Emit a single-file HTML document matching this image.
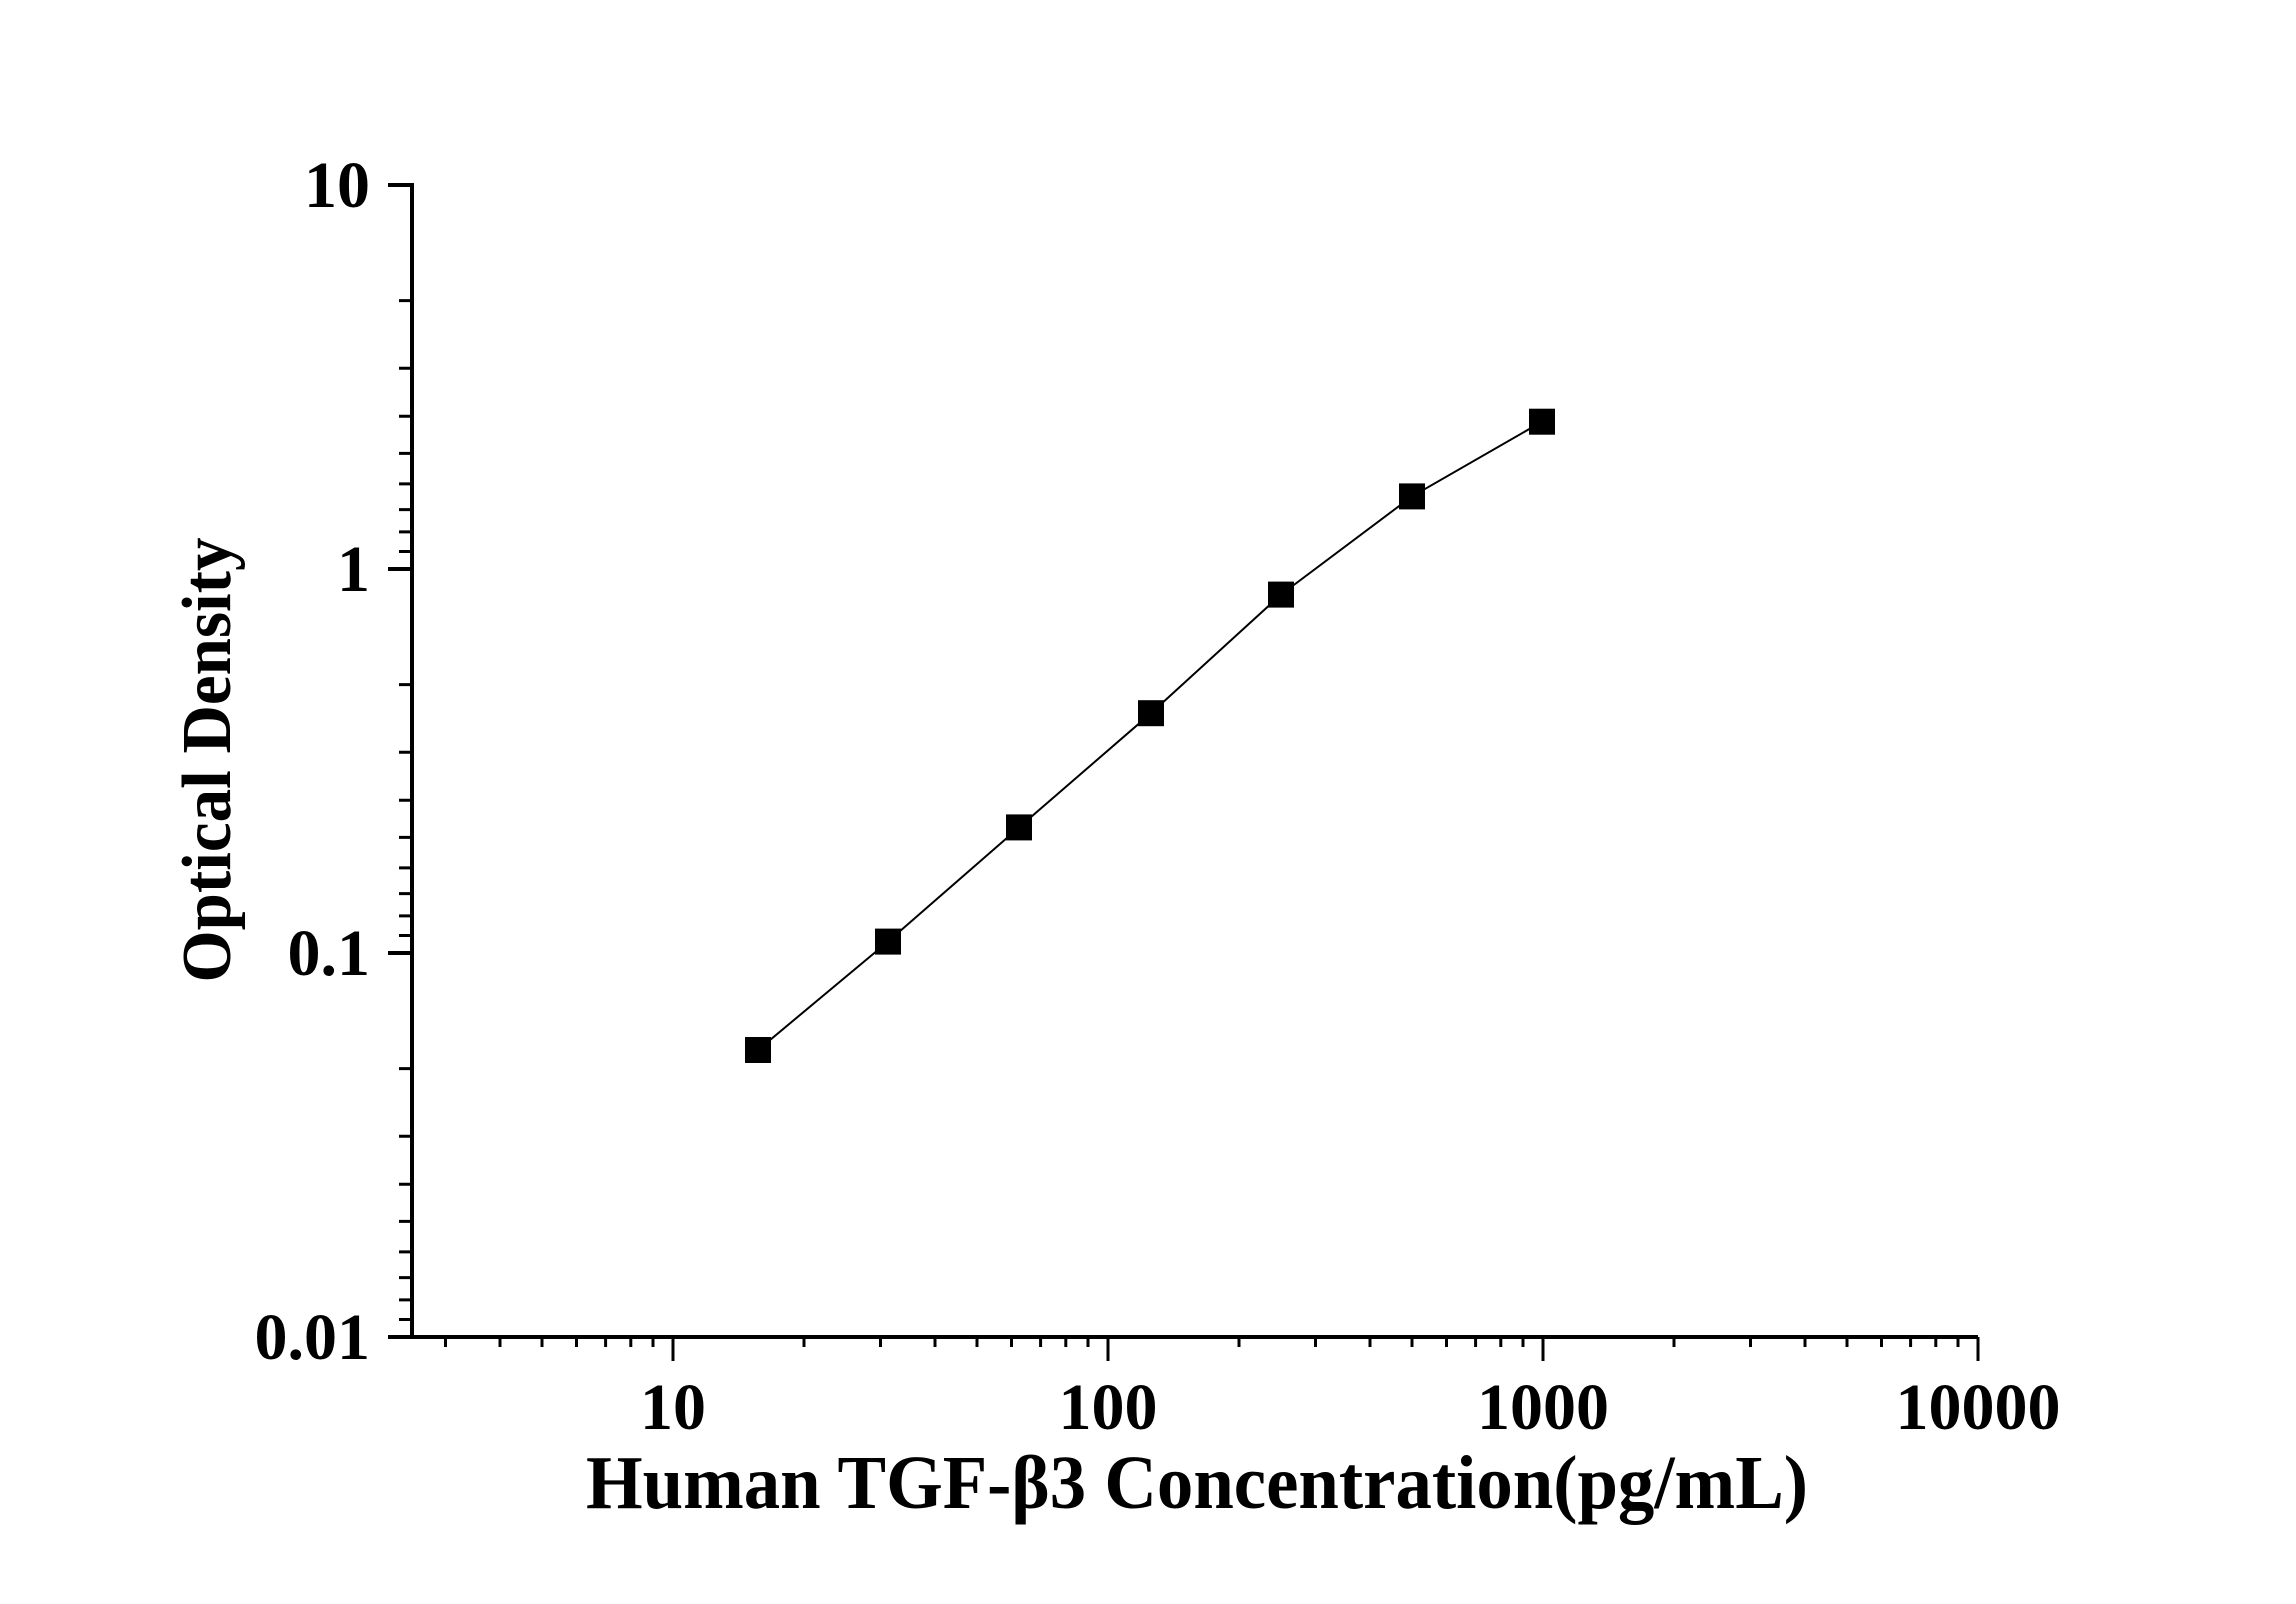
<!DOCTYPE html>
<html><head><meta charset="utf-8"><style>html,body{margin:0;padding:0;background:#fff}svg{display:block}</style></head>
<body>
<svg width="2296" height="1604" viewBox="0 0 2296 1604" xmlns="http://www.w3.org/2000/svg" font-family="Liberation Serif, serif" font-weight="bold">
<rect width="2296" height="1604" fill="#fff"/>
<g stroke="#000" stroke-width="4" fill="none">
<line x1="412" y1="183" x2="412" y2="1339"/>
<line x1="410" y1="1337" x2="1978" y2="1337"/>
<path d="M388 185H412M388 569H412M388 953H412M388 1337H412"/>
</g>
<g stroke="#000" stroke-width="3">
<path d="M399 300.6H412M399 368.2H412M399 416.2H412M399 453.4H412M399 483.9H412M399 509.6H412M399 531.9H412M399 551.5H412
M399 684.6H412M399 752.2H412M399 800.2H412M399 837.4H412M399 867.9H412M399 893.6H412M399 915.9H412M399 935.5H412
M399 1068.6H412M399 1136.2H412M399 1184.2H412M399 1221.4H412M399 1251.9H412M399 1277.6H412M399 1299.9H412M399 1319.5H412"/>
<path d="M673 1337V1361M1108 1337V1361M1543 1337V1361M1978 1337V1361"/>
<path d="M445.5 1337V1347M500 1337V1347M542 1337V1347M576.5 1337V1347M605.6 1337V1347M630.8 1337V1347M653 1337V1347
M804 1337V1347M880.5 1337V1347M935 1337V1347M977 1337V1347M1011.5 1337V1347M1040.6 1337V1347M1065.8 1337V1347M1088 1337V1347
M1239 1337V1347M1315.5 1337V1347M1370 1337V1347M1412 1337V1347M1446.5 1337V1347M1475.6 1337V1347M1500.8 1337V1347M1523 1337V1347
M1674 1337V1347M1750.5 1337V1347M1805 1337V1347M1847 1337V1347M1881.5 1337V1347M1910.6 1337V1347M1935.8 1337V1347M1958 1337V1347"/>
</g>
<g font-size="66" text-anchor="end" fill="#000">
<text x="370" y="207">10</text>
<text x="370" y="591">1</text>
<text x="370" y="975">0.1</text>
<text x="370" y="1359">0.01</text>
</g>
<g font-size="66" text-anchor="middle" fill="#000">
<text x="673" y="1429">10</text>
<text x="1108" y="1429">100</text>
<text x="1543" y="1429">1000</text>
<text x="1978" y="1429">10000</text>
</g>
<text x="586" y="1508" font-size="76" textLength="1222" lengthAdjust="spacingAndGlyphs" fill="#000">Human TGF-β3 Concentration(pg/mL)</text>
<text transform="translate(230,760) rotate(-90)" text-anchor="middle" font-size="70" textLength="445" lengthAdjust="spacingAndGlyphs" fill="#000">Optical Density</text>
<polyline fill="none" stroke="#000" stroke-width="2" points="758,1050 888,941.6 1019,827.4 1151,713.2 1281,594.6 1412,496.4 1542,421.7"/>
<g fill="#000">
<rect x="745" y="1037" width="26" height="26"/>
<rect x="875" y="928.6" width="26" height="26"/>
<rect x="1006" y="814.4" width="26" height="26"/>
<rect x="1138" y="700.2" width="26" height="26"/>
<rect x="1268" y="581.6" width="26" height="26"/>
<rect x="1399" y="483.4" width="26" height="26"/>
<rect x="1529" y="408.7" width="26" height="26"/>
</g>
</svg>
</body></html>
